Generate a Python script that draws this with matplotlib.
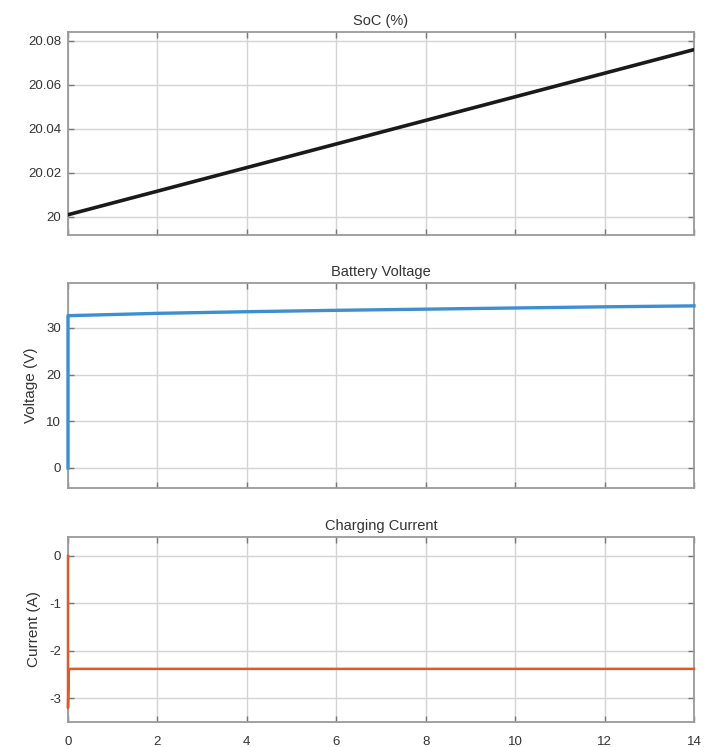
import numpy as np
import matplotlib
matplotlib.use("Agg")
import matplotlib.pyplot as plt

plt.rcParams['font.family'] = ['Liberation Sans', 'DejaVu Sans']
plt.rcParams['axes.unicode_minus'] = False

# data
t_soc = [0, 14]
soc = [20.001, 20.076]

t_volt = [0, 0, 2, 4, 6, 8, 10, 12, 14]
volt = [0, 32.6, 33.1, 33.45, 33.75, 34.0, 34.25, 34.5, 34.7]

t_cur = [0, 0, 0.02, 0.06, 14]
cur = [0, -3.2, -2.4, -2.38, -2.38]

xticks = [0, 2, 4, 6, 8, 10, 12, 14]
soc_ticks = [20, 20.02, 20.04, 20.06, 20.08]
soc_labels = ['20', '20.02', '20.04', '20.06', '20.08']
volt_ticks = [0, 10, 20, 30]
cur_ticks = [-3, -2, -1, 0]

fig = plt.figure(figsize=(7.07, 7.47), dpi=100)
W, H = 707, 747

def make_ax(left, top, right, bottom):
    ax = fig.add_axes([left / W, 1 - bottom / H, (right - left) / W, (bottom - top) / H])
    ax.set_xlim(0, 14)
    ax.set_xticks(xticks)
    ax.grid(True, color='#d4d4d4', lw=1.0)
    ax.set_axisbelow(True)
    ax.tick_params(direction='in', length=4, width=1, colors='#777777',
                   labelcolor='#333333', labelsize=9.5, pad=5,
                   top=True, right=True)
    for s in ax.spines.values():
        s.set_color('#9a9a9a')
        s.set_linewidth(1.3)
    return ax

ax1 = make_ax(68, 32, 694, 235)
ax1.plot(t_soc, soc, color='#1a1a1a', lw=2.6, zorder=3)
ax1.set_ylim(19.9918, 20.084)
ax1.set_yticks(soc_ticks)
ax1.set_yticklabels(soc_labels)
ax1.tick_params(labelbottom=False)
ax1.set_title('SoC (%)', fontsize=10.5, color='#333333', pad=5)

ax2 = make_ax(68, 283, 694, 488)
ax2.plot(t_volt, volt, color='#3d8fd0', lw=2.4, clip_on=False, zorder=3)
ax2.set_ylim(-4.3, 39.6)
ax2.set_yticks(volt_ticks)
ax2.tick_params(labelbottom=False)
ax2.set_title('Battery Voltage', fontsize=10.5, color='#333333', pad=5)
ax2.set_ylabel('Voltage (V)', fontsize=11, color='#333333', labelpad=6)

ax3 = make_ax(68, 537, 694, 722)
ax3.plot(t_cur, cur, color='#dd5a2a', lw=1.8, clip_on=False, zorder=3)
ax3.set_ylim(-3.5, 0.4)
ax3.set_yticks(cur_ticks)
ax3.tick_params(axis='x', pad=10)
ax3.set_title('Charging Current', fontsize=10.5, color='#333333', pad=5)
ax3.set_ylabel('Current (A)', fontsize=11, color='#333333', labelpad=6)

fig.savefig('out.png', dpi=100, facecolor='white')
